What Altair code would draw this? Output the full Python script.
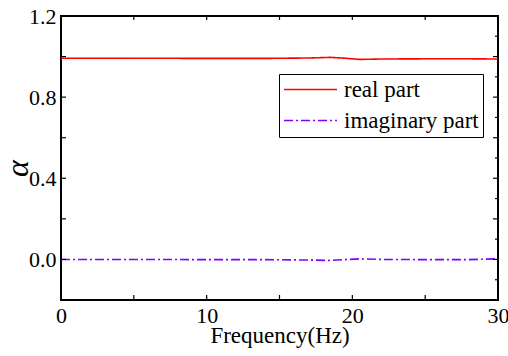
import altair as alt
import pandas as pd

# ---- data ----
freq = [0, 5, 10, 14, 17, 18.5, 19.5, 20.5, 22, 25, 28, 30]
real_part = [0.992, 0.992, 0.991, 0.991, 0.993, 0.996, 0.992, 0.986, 0.988, 0.989, 0.989, 0.988]
imag_part = [0.000, 0.000, -0.001, -0.001, -0.003, -0.005, -0.001, 0.003, 0.000, -0.001, -0.001, 0.003]
series_names = ["real part", "imaginary part"]

x_labels = [0, 10, 20, 30]
x_ticks = [0, 5, 10, 15, 20, 25, 30]
x_top_ticks = [5, 10, 15, 20, 25]
y_labels = [0.0, 0.4, 0.8, 1.2]
y_left_ticks = [-0.2, 0.0, 0.2, 0.4, 0.6, 0.8, 1.0, 1.2]
y_right_major = [0.0, 0.2, 0.4, 0.6, 0.8, 1.0]
y_right_minor = [-0.1, 0.1, 0.3, 0.5, 0.7, 0.9, 1.1]

W, H = 437, 284
FONT = "Liberation Serif"

rows = []
for f, r in zip(freq, real_part):
    rows.append({"f": f, "v": r, "s": series_names[0]})
for f, i in zip(freq, imag_part):
    rows.append({"f": f, "v": i, "s": series_names[1]})
df = pd.DataFrame(rows)

xs = alt.Scale(domain=[0, 30], nice=False, zero=False)
ys = alt.Scale(domain=[-0.2, 1.2], nice=False, zero=False)

x_axis = alt.Axis(
    title="Frequency(Hz)", values=x_labels, ticks=False, domain=False, grid=False,
    labelFont=FONT, labelFontSize=22, labelColor="black", labelPadding=5, labelFlush=False,
    titleFont=FONT, titleFontSize=23, titleFontWeight="normal", titleColor="black",
    titlePadding=-2, format="d")
y_axis = alt.Axis(
    title="α", values=y_labels, ticks=False, domain=False, grid=False, format=".1f",
    labelFont=FONT, labelFontSize=22, labelColor="black", labelPadding=5, labelFlush=False,
    titleFont=FONT, titleFontSize=32, titleFontStyle="italic", titleFontWeight="normal",
    titleColor="black", titleX=-34, titleY=152, titleAngle=270,
    titleBaseline="alphabetic", titleAlign="center")

legend = alt.Legend(title=None, orient="none", legendX=218, legendY=58,
                    strokeColor="black", padding=4, symbolType="stroke",
                    symbolSize=2800, symbolStrokeWidth=1.6, clipHeight=23,
                    labelFont=FONT, labelFontSize=23, labelColor="black",
                    rowPadding=7, labelOffset=6, fillColor="white")

lines = alt.Chart(df).mark_line(strokeWidth=1.6).encode(
    x=alt.X("f:Q", scale=xs, axis=x_axis),
    y=alt.Y("v:Q", scale=ys, axis=y_axis),
    color=alt.Color("s:N", scale=alt.Scale(domain=series_names, range=["#ff0000", "#8000ff"]),
                    legend=legend),
    strokeDash=alt.StrokeDash("s:N", scale=alt.Scale(domain=series_names, range=[[1, 0], [9, 3, 2, 3]]),
                              legend=legend),
)

tx = pd.DataFrame({"f": x_ticks})
ttop = pd.DataFrame({"f": x_top_ticks})
tl = pd.DataFrame({"v": y_left_ticks})
trM = pd.DataFrame({"v": y_right_major})
trm = pd.DataFrame({"v": y_right_minor})

bottom_ticks = alt.Chart(tx).mark_rule(color="black", strokeWidth=1.2).encode(
    x=alt.X("f:Q", scale=xs, axis=x_axis), y=alt.value(H), y2=alt.value(H - 5))
top_ticks = alt.Chart(ttop).mark_rule(color="black", strokeWidth=1.2).encode(
    x=alt.X("f:Q", scale=xs, axis=x_axis), y=alt.value(0), y2=alt.value(4))
left_ticks = alt.Chart(tl).mark_rule(color="black", strokeWidth=1.2).encode(
    y=alt.Y("v:Q", scale=ys, axis=y_axis), x=alt.value(0), x2=alt.value(5))
right_major = alt.Chart(trM).mark_rule(color="black", strokeWidth=1.2).encode(
    y=alt.Y("v:Q", scale=ys, axis=y_axis), x=alt.value(W), x2=alt.value(W - 5))
right_minor = alt.Chart(trm).mark_rule(color="black", strokeWidth=1.2).encode(
    y=alt.Y("v:Q", scale=ys, axis=y_axis), x=alt.value(W), x2=alt.value(W - 3))

chart = alt.layer(lines, bottom_ticks, top_ticks, left_ticks, right_major, right_minor).properties(
    width=W, height=H,
    background="white",
    autosize=alt.AutoSizeParams(type="none"),
    padding={"left": 61, "top": 16, "right": 10, "bottom": 56},
).configure_view(stroke="black", strokeWidth=2)

chart.save("out.html", embed_options={"renderer": "svg", "actions": False})
